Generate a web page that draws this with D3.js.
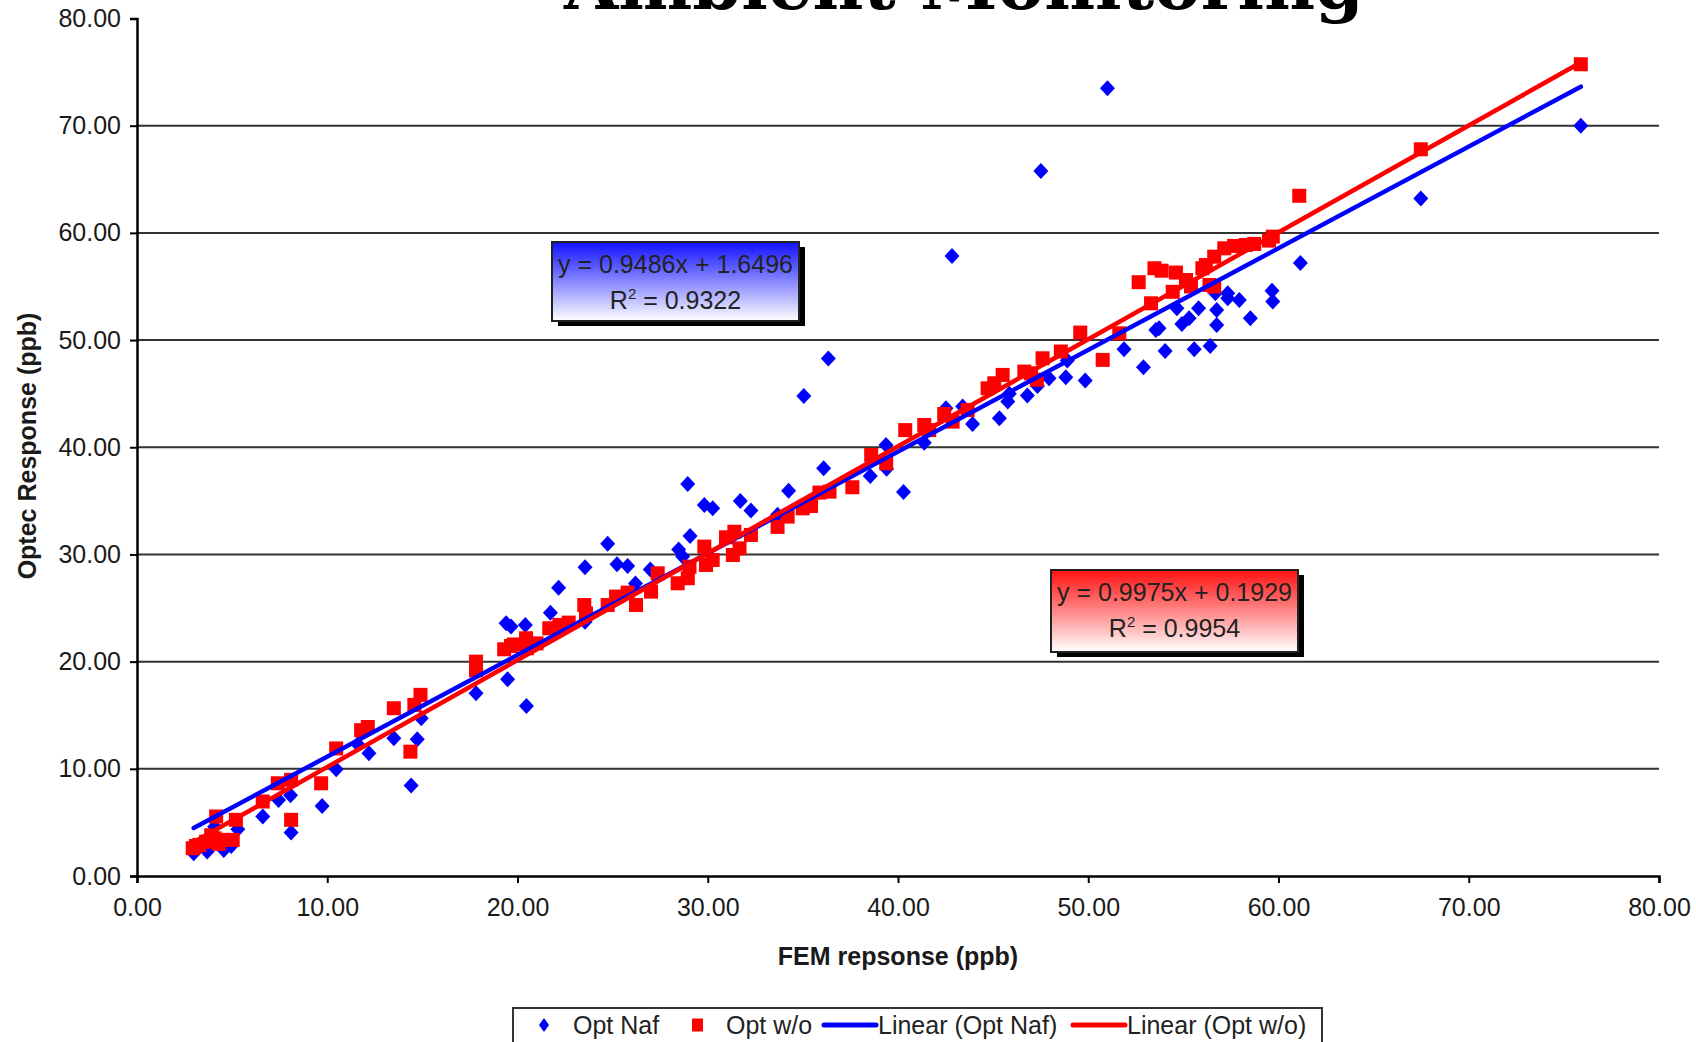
<!DOCTYPE html>
<html>
<head>
<meta charset="utf-8">
<script src="https://cdn.jsdelivr.net/npm/d3@7"></script>
<style>
  body { margin: 0; background: #fff; }
  text { font-family: "Liberation Sans", Arial, sans-serif; fill: #1a1a1a; }
</style>
</head>
<body>
<svg id="chart" width="1696" height="1042"></svg>
<script>
// Opt Naf (blue diamonds)
const optNafX = [2.98, 3.69, 4.08, 4.56, 4.95, 5.3, 6.61, 7.44, 8.07, 8.1, 9.73, 10.47, 11.6, 12.19, 13.5, 14.41, 14.73, 14.94,
  17.82, 19.4, 19.48, 19.66, 20.41, 20.47, 21.73, 22.16, 23.55, 23.55, 24.74, 25.23, 25.79, 26.2, 26.98, 28.47, 28.68, 28.95,
  29.07, 29.82, 30.26, 31.71, 32.27, 33.67, 34.25, 35.05, 36.09, 36.34, 38.54, 39.37, 39.4, 40.29, 41.38, 42.52, 42.84, 43.4,
  43.92, 45.33, 45.77, 45.85, 46.8, 47.33, 47.51, 47.94, 48.82, 48.9, 49.84, 51.01, 51.88, 52.9, 53.55, 53.72, 54.04, 54.66,
  54.92, 55.3, 55.57, 55.8, 56.41, 56.68, 56.75, 56.75, 57.33, 57.33, 57.94, 58.52, 59.66, 59.7, 61.15, 67.48, 75.89];
const optNafY = [2.13, 2.28, 4.6, 2.43, 2.8, 4.36, 5.54, 7.1, 7.53, 4.05, 6.54, 9.96, 12.3, 11.45, 12.85, 8.44, 12.76, 14.72,
  17.05, 23.59, 18.35, 23.27, 23.42, 15.86, 24.57, 26.9, 23.73, 28.8, 31.0, 29.08, 28.93, 27.3, 28.6, 30.47, 29.8, 36.57,
  31.72, 34.62, 34.3, 34.99, 34.09, 33.7, 35.95, 44.78, 38.04, 48.29, 37.32, 40.2, 38.0, 35.82, 40.43, 43.63, 57.85, 43.8,
  42.17, 42.7, 44.26, 45.0, 44.82, 45.72, 65.78, 46.43, 46.53, 48.1, 46.22, 73.49, 49.14, 47.46, 50.94, 51.1, 48.98, 52.96,
  51.5, 52.03, 49.14, 52.96, 49.45, 54.36, 51.4, 52.8, 54.36, 53.9, 53.74, 52.03, 54.6, 53.6, 57.2, 63.2, 70.0];

// Opt w/o (red squares)
const optWoX = [2.93, 3.1, 3.28, 3.63, 3.9, 4.07, 4.16, 4.3, 4.51, 5.03, 5.2, 6.61, 7.4, 8.1, 8.1, 9.68, 10.47, 11.78, 12.13,
  13.5, 14.37, 14.58, 14.9, 17.82, 17.82, 19.3, 19.66, 19.8, 20.45, 20.5, 21.0, 21.67, 22.2, 22.69, 23.51, 23.6, 24.74, 25.18,
  25.79, 26.23, 27.02, 27.37, 28.42, 28.95, 29.04, 29.82, 29.91, 30.26, 30.96, 31.4, 31.32, 31.67, 32.27, 33.67, 34.2, 34.99,
  35.43, 35.87, 36.4, 37.6, 38.59, 39.38, 40.38, 41.38, 41.64, 42.43, 42.87, 43.66, 44.71, 45.06, 45.5, 46.64, 46.99, 47.3,
  47.6, 48.56, 49.58, 50.76, 51.63, 52.65, 53.3, 53.48, 53.86, 54.44, 54.61, 55.14, 55.4, 56.0, 56.18, 56.37, 56.62, 56.62,
  57.15, 57.67, 58.28, 58.72, 59.5, 59.7, 61.09, 67.48, 75.89];
const optWoY = [2.59, 2.8, 2.9, 3.2, 3.8, 3.52, 5.55, 3.0, 3.37, 3.37, 5.24, 6.95, 8.65, 8.97, 5.24, 8.65, 11.9, 13.6, 13.9,
  15.65, 11.6, 15.96, 16.9, 19.2, 20.0, 21.15, 21.46, 21.6, 22.18, 21.25, 21.7, 23.11, 23.42, 23.64, 25.28, 24.5, 25.28, 26.07,
  26.44, 25.28, 26.53, 28.24, 27.31, 27.78, 28.86, 30.73, 29.02, 29.48, 31.6, 32.12, 29.95, 30.57, 31.82, 32.57, 33.53, 34.3,
  34.52, 35.77, 35.86, 36.27, 39.28, 38.5, 41.6, 42.08, 41.6, 43.1, 42.39, 43.48, 45.5, 45.97, 46.75, 47.06, 46.9, 46.3,
  48.3, 48.93, 50.7, 48.15, 50.63, 55.4, 53.43, 56.7, 56.47, 54.5, 56.3, 55.6, 55.0, 56.7, 57.0, 55.14, 57.78, 54.99,
  58.56, 58.78, 58.87, 58.97, 59.28, 59.65, 63.46, 67.8, 75.73];

// trendline fits [slope, intercept, r2]
const fitNaf = [0.9486, 1.6496, 0.9322];
const fitWo = [0.9975, 0.1929, 0.9954];

const tickValues = [0, 10, 20, 30, 40, 50, 60, 70, 80];
const legendLabels = ["Opt Naf", "Opt w/o", "Linear (Opt Naf)", "Linear (Opt w/o)"];

const BLUE = "#0000ff", RED = "#ff0000";

const svg = d3.select("#chart");
const x = d3.scaleLinear().domain([0, 80]).range([137, 1659]);
const y = d3.scaleLinear().domain([0, 80]).range([876, 18.5]);
const fmt = d3.format(".2f");

// title, cut by the top edge
svg.append("text")
  .attr("x", 964).attr("y", 9)
  .attr("text-anchor", "middle")
  .style("font-family", "'DejaVu Serif', serif")
  .style("font-weight", "bold")
  .style("font-size", "70px")
  .style("fill", "#000")
  .text("Ambient Monitoring");

// gridlines
svg.append("g").selectAll("line")
  .data(tickValues.filter(d => d > 0 && d < 80))
  .enter().append("line")
  .attr("x1", x(0)).attr("x2", x(80))
  .attr("y1", d => y(d)).attr("y2", d => y(d))
  .attr("stroke", "#333").attr("stroke-width", 2);

// axes
const yAxis = svg.append("g")
  .attr("transform", `translate(${x(0)},0)`)
  .call(d3.axisLeft(y).tickValues(tickValues).tickFormat(fmt).tickSize(7).tickPadding(9));
const xAxis = svg.append("g")
  .attr("transform", `translate(0,${y(0)})`)
  .call(d3.axisBottom(x).tickValues(tickValues).tickFormat(fmt).tickSize(7).tickPadding(15));
[xAxis, yAxis].forEach(g => {
  g.select(".domain").attr("stroke", "#000").attr("stroke-width", 2.5);
  g.selectAll(".tick line").attr("stroke", "#000").attr("stroke-width", 2);
  g.selectAll(".tick text").style("font-size", "25px").style("fill", "#1a1a1a")
    .style("font-family", "'Liberation Sans', Arial, sans-serif");
});

// axis titles
svg.append("text")
  .attr("x", 898).attr("y", 965)
  .attr("text-anchor", "middle")
  .style("font-size", "25px").style("font-weight", "bold")
  .text("FEM repsonse (ppb)");
svg.append("text")
  .attr("transform", "translate(36,446) rotate(-90)")
  .attr("text-anchor", "middle")
  .style("font-size", "25px").style("font-weight", "bold")
  .text("Optec Response (ppb)");

// markers
const naf = optNafX.map((v, i) => ({x: v, y: optNafY[i]}));
const wo = optWoX.map((v, i) => ({x: v, y: optWoY[i]}));

svg.append("g").selectAll("path")
  .data(naf).enter().append("path")
  .attr("d", "M0,-8L7.5,0L0,8L-7.5,0Z")
  .attr("transform", d => `translate(${x(d.x)},${y(d.y)})`)
  .attr("fill", BLUE);

svg.append("g").selectAll("rect")
  .data(wo).enter().append("rect")
  .attr("x", d => x(d.x) - 7).attr("y", d => y(d.y) - 7)
  .attr("width", 14).attr("height", 14)
  .attr("fill", RED);

// linear trendlines over the x range of each series
function trend(xs, fit, color) {
  const x0 = d3.min(xs), x1 = d3.max(xs);
  svg.append("line")
    .attr("x1", x(x0)).attr("y1", y(fit[0] * x0 + fit[1]))
    .attr("x2", x(x1)).attr("y2", y(fit[0] * x1 + fit[1]))
    .attr("stroke", color).attr("stroke-width", 4.5).attr("stroke-linecap", "round");
}
trend(optNafX, fitNaf, BLUE);
trend(optWoX, fitWo, RED);

// equation labels
const defs = svg.append("defs");
function grad(id, color) {
  const g = defs.append("linearGradient").attr("id", id)
    .attr("x1", 0).attr("y1", 0).attr("x2", 0).attr("y2", 1);
  g.append("stop").attr("offset", "0%").attr("stop-color", color);
  g.append("stop").attr("offset", "100%").attr("stop-color", "#ffffff");
}
grad("gBlue", "#1010ff");
grad("gRed", "#ff1010");

function eqBox(left, top, w, h, fit, gradId) {
  const g = svg.append("g").attr("transform", `translate(${left},${top})`);
  g.append("rect").attr("x", 6).attr("y", 5).attr("width", w).attr("height", h).attr("fill", "#000");
  g.append("rect").attr("width", w).attr("height", h)
    .attr("fill", `url(#${gradId})`).attr("stroke", "#222").attr("stroke-width", 2);
  const sign = fit[1] >= 0 ? "+" : "-";
  g.append("text").attr("x", w / 2).attr("y", 31).attr("text-anchor", "middle")
    .style("font-size", "25px").style("fill", "#222")
    .text(`y = ${fit[0].toFixed(4)}x ${sign} ${Math.abs(fit[1]).toFixed(4)}`);
  const t = g.append("text").attr("x", w / 2).attr("y", 67).attr("text-anchor", "middle")
    .style("font-size", "25px").style("fill", "#222");
  t.append("tspan").text("R");
  t.append("tspan").attr("dy", -10).style("font-size", "15px").text("2");
  t.append("tspan").attr("dy", 10).text(` = ${fit[2].toFixed(4)}`);
}
eqBox(552, 242, 247, 79, fitNaf, "gBlue");
eqBox(1051, 570, 247, 82, fitWo, "gRed");

// legend
const lg = svg.append("g");
lg.append("rect").attr("x", 513).attr("y", 1008).attr("width", 809).attr("height", 60)
  .attr("fill", "#fff").attr("stroke", "#333").attr("stroke-width", 2);
const ly = 1025;
lg.append("path").attr("d", "M0,-7L5,0L0,7L-5,0Z")
  .attr("transform", `translate(544,${ly})`).attr("fill", BLUE);
lg.append("rect").attr("x", 692).attr("y", ly - 6.5).attr("width", 11).attr("height", 13).attr("fill", RED);
lg.append("line").attr("x1", 824).attr("x2", 876).attr("y1", ly).attr("y2", ly)
  .attr("stroke", BLUE).attr("stroke-width", 5).attr("stroke-linecap", "round");
lg.append("line").attr("x1", 1073).attr("x2", 1125).attr("y1", ly).attr("y2", ly)
  .attr("stroke", RED).attr("stroke-width", 5).attr("stroke-linecap", "round");
const labelX = [573, 726, 878, 1127];
lg.selectAll("text.lbl").data(legendLabels).enter().append("text")
  .attr("class", "lbl")
  .attr("x", (d, i) => labelX[i]).attr("y", ly + 9)
  .style("font-size", "25px").style("fill", "#222")
  .text(d => d);
</script>
</body>
</html>
